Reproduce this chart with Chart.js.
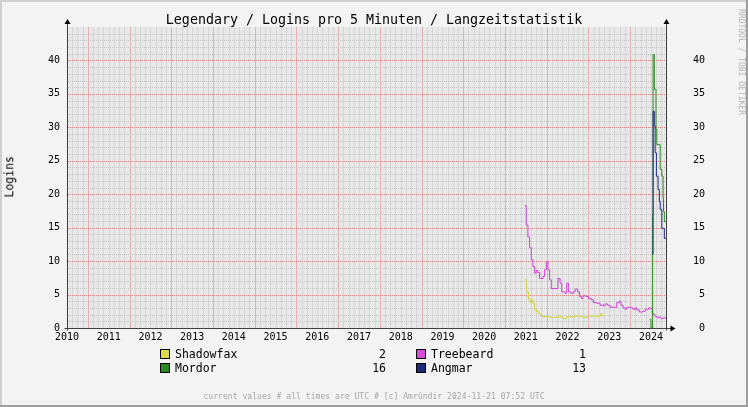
<!DOCTYPE html>
<html>
<head>
<meta charset="utf-8">
<script src="https://cdn.jsdelivr.net/npm/chart.js@4.4.1/dist/chart.umd.min.js"></script>
<style>
  html, body { margin: 0; padding: 0; background: #f3f3f3; }
  #wrap { position: relative; width: 748px; height: 407px; overflow: hidden; font-family: "DejaVu Sans Mono", monospace; }
  #c { position: absolute; left: 0; top: 0; }
  .t { position: absolute; white-space: pre; line-height: 1; color: #000; }
  .sw { position: absolute; width: 8px; height: 8px; border: 1px solid #000; }
</style>
</head>
<body>
<div id="wrap">
  <canvas id="c" width="748" height="407"></canvas>
  <div class="t" id="title" style="left:0;width:748px;text-align:center;top:13px;font-size:13.3px;">Legendary / Logins pro 5 Minuten / Langzeitstatistik</div>
  <div class="t" id="ylab" style="left:-40px;top:171px;width:100px;text-align:center;font-size:11.5px;transform:rotate(-90deg);">Logins</div>
  <div class="t" id="mark" style="left:691px;top:55px;width:100px;text-align:center;font-size:8px;color:#b4b4b4;transform:rotate(90deg);">RRDTOOL / TOBI OETIKER</div>
  <div class="t" id="foot" style="left:0;width:748px;text-align:center;top:392px;font-size:8.1px;color:#a6a6a6;">current values # all times are UTC # [c] Amrûndir 2024-11-21 07:52 UTC</div>
  <div id="legend"></div>
</div>
<script>
// axis ranges and tick labels
const xMin = 2010, xMax = 2024.36;
const yMin = 0, yMax = 45;
const yearLabels = ['2010','2011','2012','2013','2014','2015','2016','2017','2018','2019','2020','2021','2022','2023','2024'];
const yLabelValues = [0, 5, 10, 15, 20, 25, 30, 35, 40];

// series (decimal year where a step starts, value)
const shadowfaxYears = [2020.97, 2021.02, 2021.06, 2021.10, 2021.14, 2021.17, 2021.21, 2021.26, 2021.30, 2021.34, 2021.38, 2021.58, 2021.78, 2021.84, 2021.90, 2021.97, 2022.10, 2022.16, 2022.32, 2022.37, 2022.48, 2022.69, 2022.77, 2022.80, 2022.82, 2022.86, 2022.88];
const shadowfaxLogins = [7.2, 5.4, 4.4, 3.8, 4.2, 3.7, 2.7, 2.5, 2.2, 2.0, 1.7, 1.6, 1.8, 1.6, 1.4, 1.7, 1.6, 1.8, 1.7, 1.6, 1.8, 1.7, 1.8, 2.2, 1.9, 1.8, 1.8];

const treebeardYears = [2020.98, 2021.01, 2021.05, 2021.09, 2021.13, 2021.17, 2021.21, 2021.25, 2021.29, 2021.33, 2021.41, 2021.45, 2021.49, 2021.53, 2021.57, 2021.61, 2021.77, 2021.82, 2021.86, 2021.94, 2021.98, 2022.02, 2022.08, 2022.14, 2022.18, 2022.24, 2022.29, 2022.33, 2022.37, 2022.45, 2022.50, 2022.57, 2022.62, 2022.70, 2022.78, 2022.86, 2022.90, 2022.96, 2023.02, 2023.18, 2023.24, 2023.28, 2023.33, 2023.38, 2023.42, 2023.52, 2023.57, 2023.62, 2023.66, 2023.72, 2023.81, 2023.86, 2023.94, 2024.00, 2024.03, 2024.06, 2024.10, 2024.14, 2024.24, 2024.29, 2024.36];
const treebeardLogins = [18.3, 15.4, 13.6, 12.0, 10.2, 9.2, 8.2, 8.6, 8.3, 7.4, 7.7, 8.7, 9.9, 8.7, 7.2, 5.9, 7.4, 6.7, 5.4, 5.2, 6.7, 5.4, 5.2, 5.4, 5.8, 5.4, 4.7, 4.4, 4.8, 4.7, 4.4, 4.2, 3.8, 3.7, 3.4, 3.3, 3.6, 3.4, 3.1, 3.8, 4.0, 3.4, 3.0, 2.8, 3.1, 3.0, 2.8, 3.0, 2.7, 2.4, 2.5, 2.8, 3.0, 2.9, 2.2, 2.0, 1.7, 1.6, 1.4, 1.5, 1.5];

const mordorYears = [2023.97, 2024.00, 2024.04, 2024.05, 2024.08, 2024.12, 2024.14, 2024.22, 2024.26, 2024.29, 2024.30, 2024.32, 2024.36];
const mordorLogins = [1.3, 0, 17.0, 40.9, 35.7, 29.7, 27.4, 23.7, 22.7, 19.4, 17.4, 15.9, 15.9];

const angmarYears = [2024.04, 2024.05, 2024.08, 2024.10, 2024.13, 2024.17, 2024.20, 2024.22, 2024.26, 2024.32, 2024.36];
const angmarLogins = [11.0, 32.4, 30.2, 26.2, 22.7, 20.7, 18.9, 17.7, 14.9, 13.4, 13.4];

// legend
const seriesNames = ['Shadowfax', 'Treebeard', 'Mordor', 'Angmar'];
const currentValues = ['2', '1', '16', '13'];
const lineColors = ['#d4d430', '#d040d8', '#2a8a1e', '#1c2a84'];
const swatchColors = ['#dcdc48', '#d84ad8', '#268a20', '#1c2a7c'];

function pts(xs, ys) { return xs.map((x, i) => ({ x: x, y: ys[i] })); }

// legend layout: two columns, two rows
const legend = document.getElementById('legend');
const legCols = [160, 416], valRight = [386, 586], legRows = [349, 363];
seriesNames.forEach((name, i) => {
  const col = i % 2, row = Math.floor(i / 2);
  const sw = document.createElement('div');
  sw.className = 'sw';
  sw.style.left = legCols[col] + 'px';
  sw.style.top = legRows[row] + 'px';
  sw.style.background = swatchColors[i];
  legend.appendChild(sw);
  const lt = document.createElement('div');
  lt.className = 't';
  lt.style.cssText = 'font-size:11.5px;left:' + (legCols[col] + 15) + 'px;top:' + (legRows[row] - 0.5) + 'px;';
  lt.textContent = name;
  legend.appendChild(lt);
  const vt = document.createElement('div');
  vt.className = 't';
  vt.style.cssText = 'font-size:11.5px;text-align:right;width:60px;left:' + (valRight[col] - 60) + 'px;top:' + (legRows[row] - 0.5) + 'px;';
  vt.textContent = currentValues[i];
  legend.appendChild(vt);
});

const MINOR = '#c4c4c4';
const MAJOR = '#e07c7c';
const MINOR_V = '#d6d6d6';
const MAJOR_V = '#e6b0b0';
const AXIS = '#404040';

// background, frame, axis lines and arrows
const rrdFrame = {
  id: 'rrdFrame',
  beforeDraw(chart) {
    const { ctx, chartArea: a, width, height } = chart;
    ctx.save();
    ctx.fillStyle = '#f3f3f3';
    ctx.fillRect(0, 0, width, height);
    ctx.fillStyle = '#cfcfcf';
    ctx.fillRect(0, 0, width, 2);
    ctx.fillRect(0, 0, 2, height);
    ctx.fillStyle = '#9e9e9e';
    ctx.fillRect(0, height - 2, width, 2);
    ctx.fillRect(width - 2, 0, 2, height);
    ctx.fillStyle = '#e8e8e8';
    ctx.fillRect(a.left, a.top, a.right - a.left, a.bottom - a.top);
    ctx.restore();
  },
  // rrdtool style grid, positioned by the chart scales
  beforeDatasetsDraw(chart) {
    const { ctx, chartArea: a } = chart;
    const xs = chart.scales.x, ys = chart.scales.y;
    const top = Math.round(a.top), bot = Math.round(a.bottom);
    const left = Math.round(a.left), right = Math.round(a.right);
    ctx.save();
    // vertical lines: 8 per year, red at mid-year
    for (let k = 1; xMin + k / 8 < xMax; k++) {
      const px = Math.round(xs.getPixelForValue(xMin + k / 8));
      ctx.fillStyle = (k % 8 === 4) ? MAJOR_V : MINOR_V;
      ctx.fillRect(px, top, 1, bot - top);
    }
    // horizontal lines: every login, red every 5
    for (let v = yMin + 1; v < yMax; v++) {
      const py = Math.round(ys.getPixelForValue(v));
      ctx.fillStyle = (v % 5 === 0) ? MAJOR : MINOR;
      for (let px = left + 1; px < right; px += 2) ctx.fillRect(px, py, 1, 1);
    }
    ctx.restore();
  },
  afterDraw(chart) {
    const { ctx, chartArea: a } = chart;
    const L = Math.round(a.left) + 0.5, R = Math.round(a.right) + 0.5, B = Math.round(a.bottom) + 0.5;
    const T = Math.round(a.top);
    ctx.save();
    ctx.strokeStyle = AXIS;
    ctx.lineWidth = 1;
    ctx.beginPath();
    ctx.moveTo(L, B + 2); ctx.lineTo(L, T - 4);
    ctx.moveTo(R, B + 2); ctx.lineTo(R, T - 4);
    ctx.moveTo(L - 3, B); ctx.lineTo(R + 5, B);
    ctx.stroke();
    ctx.fillStyle = '#000';
    [L, R].forEach(x => {
      ctx.beginPath();
      ctx.moveTo(x - 3, T - 3);
      ctx.lineTo(x + 3, T - 3);
      ctx.lineTo(x, T - 8);
      ctx.closePath();
      ctx.fill();
    });
    ctx.beginPath();
    ctx.moveTo(R + 4, B - 3);
    ctx.lineTo(R + 4, B + 3);
    ctx.lineTo(R + 9, B);
    ctx.closePath();
    ctx.fill();
    ctx.restore();
  }
};

const tickFont = { family: 'DejaVu Sans Mono', size: 10 };

function yTicks(s) {
  const t = [];
  for (let v = yMin; v <= yMax; v++) t.push({ value: v });
  s.ticks = t;
}
function yLabel(v) { return yLabelValues.includes(v) ? String(v) : ''; }

new Chart(document.getElementById('c'), {
  type: 'line',
  data: {
    datasets: [
      { label: seriesNames[0], data: pts(shadowfaxYears, shadowfaxLogins), borderColor: lineColors[0], order: 3 },
      { label: seriesNames[1], data: pts(treebeardYears, treebeardLogins), borderColor: lineColors[1], order: 2 },
      { label: seriesNames[2], data: pts(mordorYears, mordorLogins), borderColor: lineColors[2], order: 1 },
      { label: seriesNames[3], data: pts(angmarYears, angmarLogins), borderColor: lineColors[3], order: 0 }
    ]
  },
  options: {
    responsive: false,
    animation: false,
    devicePixelRatio: 1,
    events: [],
    layout: { padding: { top: 27, left: 0, right: 43, bottom: 0 } },
    elements: {
      line: { borderWidth: 1, stepped: true, tension: 0, fill: false },
      point: { radius: 0 }
    },
    plugins: { legend: { display: false }, tooltip: { enabled: false }, title: { display: false } },
    scales: {
      x: {
        type: 'linear', position: 'bottom', min: xMin, max: xMax,
        afterFit(s) { s.height = 79; s.paddingLeft = 0; s.paddingRight = 0; },
        afterBuildTicks(s) {
          s.ticks = yearLabels.map((l, i) => ({ value: xMin + i }));
        },
        grid: { display: false, drawTicks: false },
        border: { display: false },
        ticks: {
          autoSkip: false, maxRotation: 0, padding: 3, color: '#000', font: tickFont,
          callback(v) { return yearLabels[Math.round(v - xMin)]; }
        }
      },
      y: {
        type: 'linear', position: 'left', min: yMin, max: yMax,
        afterFit(s) { s.width = 67; s.paddingTop = 0; s.paddingBottom = 0; },
        afterBuildTicks: yTicks,
        grid: { display: false, drawTicks: false },
        border: { display: false },
        ticks: { autoSkip: false, padding: 7, color: '#000', font: tickFont, callback: yLabel }
      },
      y2: {
        type: 'linear', position: 'right', min: yMin, max: yMax,
        afterFit(s) { s.width = 39; s.paddingTop = 0; s.paddingBottom = 0; },
        afterBuildTicks: yTicks,
        grid: { display: false, drawTicks: false },
        border: { display: false },
        ticks: { autoSkip: false, padding: 26, crossAlign: 'far', color: '#000', font: tickFont, callback: yLabel }
      }
    }
  },
  plugins: [rrdFrame]
});
</script>
</body>
</html>
